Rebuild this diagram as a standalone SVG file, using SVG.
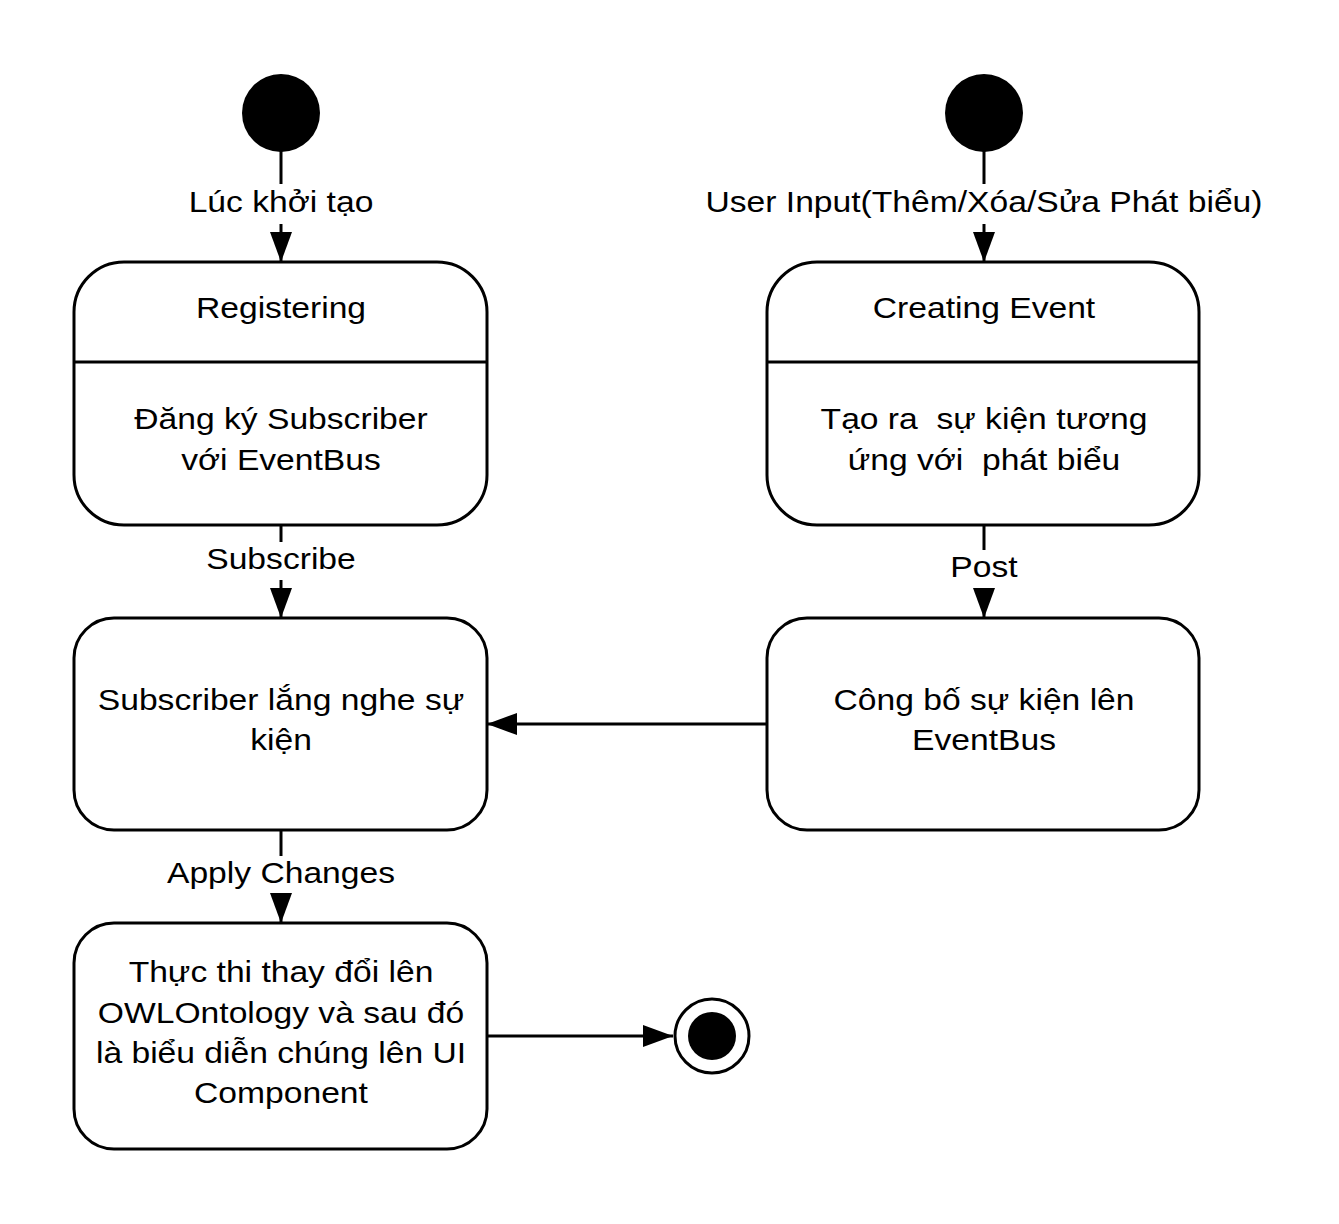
<svg xmlns="http://www.w3.org/2000/svg" width="1339" height="1224" viewBox="0 0 1339 1224">
<defs>
<style>
.box{fill:#fff;stroke:#000;stroke-width:3}
.ln{stroke:#000;stroke-width:3;fill:none}
text{font-family:"Liberation Sans",Arial,sans-serif;font-size:29.5px;fill:#000;text-anchor:middle;white-space:pre}
</style>
<marker id="arr" markerUnits="userSpaceOnUse" markerWidth="32" markerHeight="24" refX="30" refY="12" orient="auto">
<path d="M0,1 L30,12 L0,23 Z" fill="#000"/>
</marker>
</defs>
<rect width="1339" height="1224" fill="#fff"/>
<g id="connectors">
<line class="ln" x1="281" y1="150" x2="281" y2="184"/>
<line class="ln" x1="281" y1="224" x2="281" y2="262" marker-end="url(#arr)"/>
<line class="ln" x1="984" y1="150" x2="984" y2="184"/>
<line class="ln" x1="984" y1="224" x2="984" y2="262" marker-end="url(#arr)"/>
<line class="ln" x1="281" y1="525" x2="281" y2="542"/>
<line class="ln" x1="281" y1="580" x2="281" y2="618" marker-end="url(#arr)"/>
<line class="ln" x1="984" y1="525" x2="984" y2="550"/>
<line class="ln" x1="984" y1="588" x2="984" y2="618" marker-end="url(#arr)"/>
<line class="ln" x1="767" y1="724" x2="487" y2="724" marker-end="url(#arr)"/>
<line class="ln" x1="281" y1="830" x2="281" y2="856"/>
<line class="ln" x1="281" y1="894" x2="281" y2="923" marker-end="url(#arr)"/>
<line class="ln" x1="487" y1="1036" x2="673" y2="1036" marker-end="url(#arr)"/>
<g transform="translate(281 0) scale(1.14 1)"><text x="0" y="212">Lúc khởi tạo</text></g>
<g transform="translate(984 0) scale(1.14 1)"><text x="0" y="212">User Input(Thêm/Xóa/Sửa Phát biểu)</text></g>
<g transform="translate(281 0) scale(1.14 1)"><text x="0" y="569">Subscribe</text></g>
<g transform="translate(984 0) scale(1.14 1)"><text x="0" y="577">Post</text></g>
<g transform="translate(281 0) scale(1.14 1)"><text x="0" y="883">Apply Changes</text></g>
</g>
<g id="start1"><circle cx="281" cy="113" r="39" fill="#000"/></g>
<g id="start2"><circle cx="984" cy="113" r="39" fill="#000"/></g>
<g id="registering">
<rect class="box" x="74" y="262" width="413" height="263" rx="50" ry="50"/>
<line class="ln" x1="74" y1="362" x2="487" y2="362"/>
<g transform="translate(281 0) scale(1.14 1)">
<text x="0" y="318">Registering</text>
<text x="0" y="429">Đăng ký Subscriber</text>
<text x="0" y="470">với EventBus</text>
</g>
</g>
<g id="creating">
<rect class="box" x="767" y="262" width="432" height="263" rx="50" ry="50"/>
<line class="ln" x1="767" y1="362" x2="1199" y2="362"/>
<g transform="translate(984 0) scale(1.14 1)">
<text x="0" y="318">Creating Event</text>
<text x="0" y="429">Tạo ra  sự kiện tương</text>
<text x="0" y="470">ứng với  phát biểu</text>
</g>
</g>
<g id="listening">
<rect class="box" x="74" y="618" width="413" height="212" rx="40" ry="40"/>
<g transform="translate(281 0) scale(1.14 1)">
<text x="0" y="710">Subscriber lắng nghe sự</text>
<text x="0" y="750">kiện</text>
</g>
</g>
<g id="publishing">
<rect class="box" x="767" y="618" width="432" height="212" rx="40" ry="40"/>
<g transform="translate(984 0) scale(1.14 1)">
<text x="0" y="710">Công bố sự kiện lên</text>
<text x="0" y="750">EventBus</text>
</g>
</g>
<g id="applying">
<rect class="box" x="74" y="923" width="413" height="226" rx="40" ry="40"/>
<g transform="translate(281 0) scale(1.14 1)">
<text x="0" y="982">Thực thi thay đổi lên</text>
<text x="0" y="1023">OWLOntology và sau đó</text>
<text x="0" y="1063">là biểu diễn chúng lên UI</text>
<text x="0" y="1103">Component</text>
</g>
</g>
<g id="end">
<circle cx="712" cy="1036" r="37" fill="#fff" stroke="#000" stroke-width="3"/>
<circle cx="712" cy="1036" r="24" fill="#000"/>
</g>
</svg>
